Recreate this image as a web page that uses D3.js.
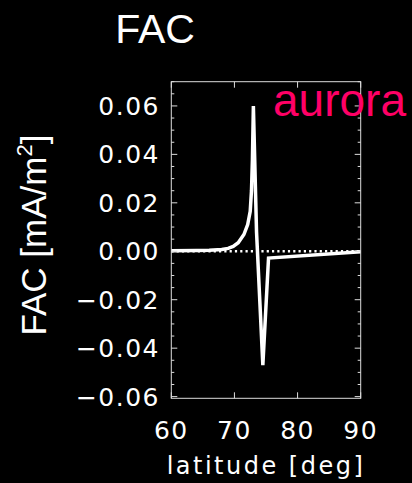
<!DOCTYPE html>
<html lang="en">
<head>
  <meta charset="utf-8">
  <script src="https://cdnjs.cloudflare.com/ajax/libs/d3/7.8.5/d3.min.js"></script>
  <style>
    html, body { margin: 0; padding: 0; background: #000; }
    svg { display: block; }
    .tick-label { font-family: "DejaVu Sans", sans-serif; font-size: 25px; fill: #fff; letter-spacing: 1.5px; }
    .title { font-family: "Liberation Sans", Arial, sans-serif; font-size: 41px; fill: #fff; }
    .ylab { font-family: "Liberation Sans", Arial, sans-serif; font-size: 35px; fill: #fff; }
    .xlab { font-family: "DejaVu Sans", sans-serif; font-size: 24px; fill: #fff; letter-spacing: 2.5px; }
  </style>
</head>
<body>
  <svg id="chart" width="412" height="483"></svg>
  <script>
    // FAC profile vs latitude
    var latitude = [60, 64, 66, 68, 69, 69.8, 70.6, 71.5, 72.1, 72.5, 72.7, 72.85, 73.0, 73.5, 74.5, 75.4, 90];
    var fac      = [0.0002, 0.0003, 0.0004, 0.0007, 0.0012, 0.002, 0.0035, 0.0069, 0.011, 0.0165, 0.025, 0.038, 0.06, 0.008, -0.047, -0.0028, -0.0002];
    var xTicks = [60, 70, 80, 90];
    var yTicks = [0.06, 0.04, 0.02, 0.00, -0.02, -0.04, -0.06];

    var svg = d3.select("#chart");
    var pLeft = 171.3, pRight = 360.7, pTop = 81.7, pBottom = 398.3;

    var x = d3.scaleLinear().domain([60, 90]).range([pLeft, pRight]);
    var y = d3.scaleLinear().domain([-0.0607, 0.07]).range([pBottom, pTop]);

    // zero line, dotted
    svg.append("line")
      .attr("x1", pLeft).attr("x2", pRight)
      .attr("y1", y(0)).attr("y2", y(0))
      .attr("stroke", "#fff").attr("stroke-width", 2.5)
      .attr("stroke-dasharray", "2.2,3.1");

    var line = d3.line().x(function(d) { return x(d[0]); }).y(function(d) { return y(d[1]); });
    svg.append("path")
      .datum(d3.zip(latitude, fac))
      .attr("d", line)
      .attr("fill", "none")
      .attr("stroke", "#fff")
      .attr("stroke-width", 3.5)
      .attr("stroke-linejoin", "miter")
      .attr("stroke-miterlimit", 2);

    // frame
    svg.append("rect")
      .attr("x", pLeft).attr("y", pTop)
      .attr("width", pRight - pLeft).attr("height", pBottom - pTop)
      .attr("fill", "none").attr("stroke", "#ddd").attr("stroke-width", 1);

    // y ticks (major + minor), left and right, pointing inward
    var minor = d3.range(-0.06, 0.0701, 0.005);
    var tk = svg.append("g").attr("stroke", "#ddd").attr("stroke-width", 1);
    minor.forEach(function(v) {
      var isMajor = yTicks.some(function(t) { return Math.abs(t - v) < 1e-6; });
      var len = isMajor ? 6 : 3;
      tk.append("line").attr("x1", pLeft).attr("x2", pLeft + len).attr("y1", y(v)).attr("y2", y(v));
      tk.append("line").attr("x1", pRight).attr("x2", pRight - len).attr("y1", y(v)).attr("y2", y(v));
    });
    xTicks.forEach(function(v) {
      tk.append("line").attr("x1", x(v)).attr("x2", x(v)).attr("y1", pBottom).attr("y2", pBottom - 6);
      tk.append("line").attr("x1", x(v)).attr("x2", x(v)).attr("y1", pTop).attr("y2", pTop + 6);
    });

    // tick labels
    svg.selectAll(".ytl").data(yTicks).enter().append("text")
      .attr("class", "tick-label")
      .attr("x", 160).attr("y", function(d) { return y(d) + 9; })
      .attr("text-anchor", "end")
      .text(function(d) { return (d < 0 ? "\u2212" : "") + Math.abs(d).toFixed(2); });

    svg.selectAll(".xtl").data(xTicks).enter().append("text")
      .attr("class", "tick-label")
      .attr("x", function(d) { return x(d); }).attr("y", 439)
      .attr("text-anchor", "middle")
      .text(function(d) { return d; });

    svg.append("text").attr("class", "title")
      .attr("x", 155).attr("y", 43).attr("text-anchor", "middle").text("FAC");

    svg.append("text").attr("class", "xlab")
      .attr("x", 266).attr("y", 474).attr("text-anchor", "middle").text("latitude [deg]");

    var yl = svg.append("text").attr("class", "ylab")
      .attr("transform", "translate(46,235) rotate(-90)")
      .attr("text-anchor", "middle");
    yl.append("tspan").text("FAC [mA/m");
    yl.append("tspan").attr("font-size", "22px").attr("dy", -14).text("2");
    yl.append("tspan").attr("dy", 14).text("]");

    svg.append("text")
      .attr("x", 273).attr("y", 116)
      .attr("fill", "#ff0066")
      .style("font-family", "Liberation Sans, Arial, sans-serif")
      .style("font-size", "46px")
      .text("aurora");
  </script>
</body>
</html>
